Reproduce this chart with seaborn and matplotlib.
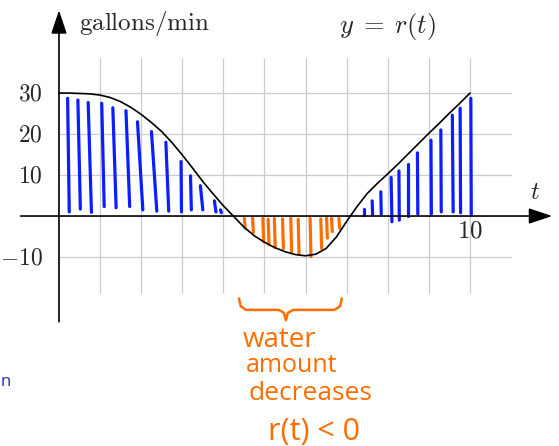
import numpy as np
import pandas as pd
import matplotlib
matplotlib.use("Agg")
import matplotlib.pyplot as plt
import seaborn as sns

# Curve r(t), every quarter minute
t_vals = [0, 0.25, 0.5, 0.75, 1, 1.25, 1.5, 1.75, 2, 2.25, 2.5, 2.75, 3, 3.25,
          3.5, 3.75, 4, 4.25, 4.5, 4.75, 5, 5.25, 5.5, 5.75, 6, 6.25, 6.5, 6.75,
          7, 7.25, 7.5, 7.75, 8, 8.25, 8.5, 8.75, 9, 9.25, 9.5, 9.75, 10]
r_vals = [30, 30, 29.9, 29.8, 29.5, 28.9, 27.9, 26.5, 24.8, 22.8, 20.6, 17.9,
          14.9, 11.7, 8.4, 5.4, 2.5, -0.1, -2.7, -4.8, -6.4, -7.7, -8.7, -9.4,
          -9.7, -9.3, -7.9, -5.1, -1.3, 2.3, 5.5, 8.0, 10.3, 12.7, 15.2, 17.7,
          20.2, 22.6, 25.1, 27.5, 30]

# hand drawn hatching, blue where r > 0
blue_top_t = [0.21, 0.46, 0.71, 1.04, 1.31, 1.63, 1.91, 2.25, 2.60, 2.97, 3.20,
              3.44, 3.78, 3.93, 7.41, 7.62, 7.83, 8.08, 8.27, 8.48, 8.72, 9.05,
              9.29, 9.57, 9.76, 10.02]
blue_bot_t = [0.25, 0.52, 0.79, 1.10, 1.39, 1.72, 2.04, 2.38, 2.67, 2.98, 3.22,
              3.50, 3.82, 3.95, 7.41, 7.63, 7.84, 8.10, 8.28, 8.48, 8.73, 9.06,
              9.30, 9.59, 9.77, 10.03]
blue_top_v = [28.7, 28.3, 27.7, 27.5, 26.4, 25.7, 23.0, 20.6, 18.0, 13.3, 9.8,
              7.4, 3.7, 1.5, 1.7, 3.7, 5.9, 9.4, 11.0, 12.7, 15.4, 18.5, 21.0,
              24.6, 26.3, 28.7]
blue_bot_v = [1.0, 1.7, 0.9, 2.3, 2.0, 2.3, 1.5, 1.2, 1.2, 1.0, 1.5, 1.5, 1.0,
              0.8, 0.3, 0.3, 0.5, -1.4, -1.0, 0.0, 0.5, 0.5, 1.0, 1.0, 0.8, 0.3]

# orange where r < 0
orange_t = [4.51, 4.71, 4.96, 5.09, 5.24, 5.44, 5.64, 5.82, 6.11, 6.37, 6.51,
            6.63, 6.81]
orange_top_v = [-0.6, -0.5, -0.6, -0.8, -0.6, -0.7, -0.6, -0.8, -0.6, -0.7,
                -0.5, -0.6, -0.6]
orange_bot_v = [-3.0, -4.0, -6.3, -7.0, -7.7, -7.9, -8.7, -9.3, -9.9, -7.9,
                -5.4, -3.8, -3.0]

y_ticks = [30, 20, 10, -10]
x_ticks = [10]

BLUE = "#0a1eff"
ORANGE = "#ff6d00"
GRID = "#cccccc"

df = pd.DataFrame({"t": t_vals, "r": r_vals})

sns.set_style("white")
plt.rcParams["mathtext.fontset"] = "cm"

fig = plt.figure(figsize=(5.59, 4.46), dpi=100)
ax = fig.add_axes([0, 0, 1, 1])
ax.set_xlim(-1.435, 12.165)
ax.set_ylim(-56.1, 52.7)

# grid
for gx in range(1, 11):
    ax.plot([gx, gx], [-18.8, 38.5], color=GRID, lw=0.9, zorder=1)
for gy in [-10, 10, 20, 30]:
    ax.plot([0, 11], [gy, gy], color=GRID, lw=0.9, zorder=1)

# axes with arrow heads
arrow = dict(arrowstyle="-|>,head_length=0.72,head_width=0.24",
             mutation_scale=20, lw=1.2, color="black", shrinkA=0, shrinkB=0)
ax.annotate("", xy=(12.0, 0), xytext=(-0.93, 0), arrowprops=arrow, zorder=4)
ax.annotate("", xy=(0, 50.2), xytext=(0, -25.8), arrowprops=arrow, zorder=4)

# hatching
for tt, tb, vt, vb in zip(blue_top_t, blue_bot_t, blue_top_v, blue_bot_v):
    ax.plot([tb, tt], [vb, vt], color=BLUE, lw=2.3, solid_capstyle="round", zorder=2)
for tt, vt, vb in zip(orange_t, orange_top_v, orange_bot_v):
    ax.plot([tt, tt + 0.02], [vt, vb], color=ORANGE, lw=2.3, solid_capstyle="round", zorder=2)

# the curve
sns.lineplot(data=df, x="t", y="r", color="black", lw=1.2, ax=ax, zorder=3)
ax.axis("off")

# labels
for v in y_ticks:
    ax.text(-0.40, v, rf"${v}$", ha="right", va="center", fontsize=17)
for v in x_ticks:
    ax.text(v, -3.6, rf"${v}$", ha="center", va="center", fontsize=18)
ax.text(11.58, 5.9, r"$t$", ha="center", va="center", fontsize=18)
ax.text(0.49, 45.4, r"$\mathrm{gallons/min}$", ha="left", va="baseline", fontsize=18)
ax.text(6.81, 44.6, r"$y\;=\;r(t)$", ha="left", va="baseline", fontsize=19)

# brace and notes
brace_t = [4.38, 4.42, 4.55, 5.35, 5.47, 5.52, 5.57, 5.70, 6.70, 6.84, 6.88]
brace_v = [-20.1, -22.0, -22.9, -22.9, -23.6, -25.4, -23.6, -22.9, -22.9, -22.0, -20.1]
ax.plot(brace_t, brace_v, color=ORANGE, lw=1.8, solid_capstyle="round")

hand = dict(color=ORANGE, family="Open Sans", ha="left", va="baseline")
ax.text(4.48, -32.0, "water", fontsize=20, **hand)
ax.text(4.55, -38.0, "amount", fontsize=18, **hand)
ax.text(4.60, -44.9, "decreases", fontsize=19, **hand)
ax.text(5.09, -54.6, "r(t) < 0", fontsize=22, **hand)
ax.text(-1.42, -41.5, "n", color="#2a2aa0", fontsize=12, family="Open Sans", va="baseline")

fig.savefig("out.png", dpi=100)
